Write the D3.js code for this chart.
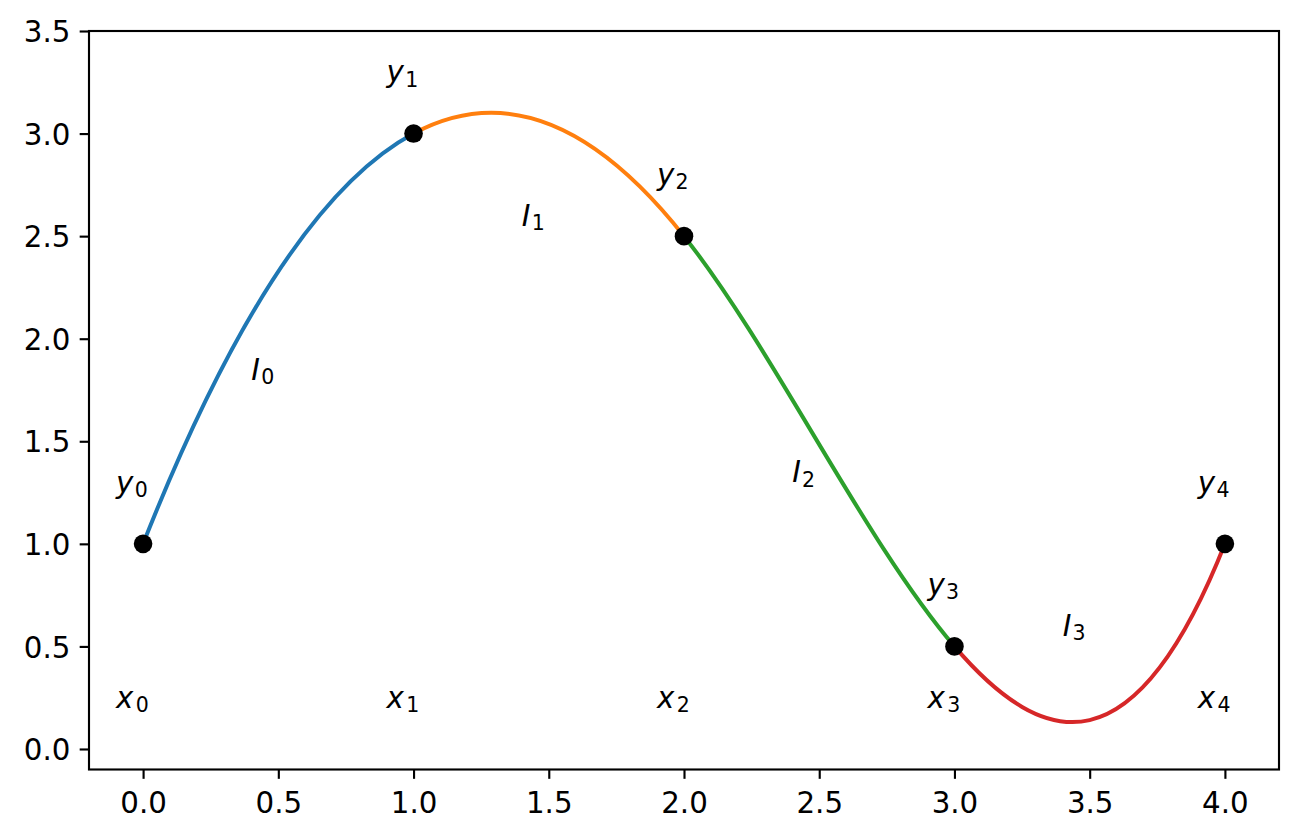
<!DOCTYPE html>
<html>
<head>
<meta charset="utf-8">
<script src="https://cdn.jsdelivr.net/npm/d3@7"></script>
<style>
  html, body { margin: 0; padding: 0; background: #fff; }
  svg { display: block; font-family: "DejaVu Sans", sans-serif; }
</style>
</head>
<body>
<svg id="chart" width="1298" height="839"></svg>
<script>
// ---- data ----
const knotX = [0, 1, 2, 3, 4];
const knotY = [1, 3, 2.5, 0.5, 1];
const segmentColors = ["#1f77b4", "#ff7f0e", "#2ca02c", "#d62728"];
const xTicks = [0, 0.5, 1, 1.5, 2, 2.5, 3, 3.5, 4];
const yTicks = [0, 0.5, 1, 1.5, 2, 2.5, 3, 3.5];
const xDomain = [-0.2, 4.2];
const yDomain = [-0.1, 3.5];
const xLabelY = 0.2;      // y position of the x_i labels
const yLabelOffset = 0.25; // y_i labels above the knot
const labelShiftX = -0.1;
const intervalShiftX = 0.4;
const intervalShiftY = -0.2;

// ---- layout ----
const svg = d3.select("#chart");
const L = 89, R = 1279, T = 31, B = 769.5;
const FS = 29.3;
const x = d3.scaleLinear().domain(xDomain).range([L, R]);
const y = d3.scaleLinear().domain(yDomain).range([B, T]);

// ---- not-a-knot cubic spline (as scipy CubicSpline) ----
function solve(A, b) {
  const n = b.length;
  A = A.map(r => r.slice()); b = b.slice();
  for (let c = 0; c < n; c++) {
    let p = c;
    for (let r = c + 1; r < n; r++) if (Math.abs(A[r][c]) > Math.abs(A[p][c])) p = r;
    [A[c], A[p]] = [A[p], A[c]]; [b[c], b[p]] = [b[p], b[c]];
    for (let r = c + 1; r < n; r++) {
      const f = A[r][c] / A[c][c];
      for (let k = c; k < n; k++) A[r][k] -= f * A[c][k];
      b[r] -= f * b[c];
    }
  }
  const xs = new Array(n).fill(0);
  for (let r = n - 1; r >= 0; r--) {
    let s = b[r];
    for (let k = r + 1; k < n; k++) s -= A[r][k] * xs[k];
    xs[r] = s / A[r][r];
  }
  return xs;
}
const n = knotX.length;
const h = d3.range(n - 1).map(i => knotX[i + 1] - knotX[i]);
const A = d3.range(n).map(() => new Array(n).fill(0));
const rhs = new Array(n).fill(0);
A[0][0] = -h[1]; A[0][1] = h[0] + h[1]; A[0][2] = -h[0];
for (let i = 1; i < n - 1; i++) {
  A[i][i - 1] = h[i - 1]; A[i][i] = 2 * (h[i - 1] + h[i]); A[i][i + 1] = h[i];
  rhs[i] = 6 * ((knotY[i + 1] - knotY[i]) / h[i] - (knotY[i] - knotY[i - 1]) / h[i - 1]);
}
A[n - 1][n - 3] = -h[n - 2]; A[n - 1][n - 2] = h[n - 3] + h[n - 2]; A[n - 1][n - 1] = -h[n - 3];
const M = solve(A, rhs);

// each cubic segment expressed exactly as a cubic Bezier
const segments = d3.range(n - 1).map(i => {
  const hi = h[i];
  const dy = (knotY[i + 1] - knotY[i]) / hi;
  const d0 = dy - hi * (2 * M[i] + M[i + 1]) / 6;
  const d1 = dy + hi * (M[i] + 2 * M[i + 1]) / 6;
  const p = d3.path();
  p.moveTo(x(knotX[i]), y(knotY[i]));
  p.bezierCurveTo(
    x(knotX[i] + hi / 3), y(knotY[i] + d0 * hi / 3),
    x(knotX[i + 1] - hi / 3), y(knotY[i + 1] - d1 * hi / 3),
    x(knotX[i + 1]), y(knotY[i + 1]));
  return { d: p.toString(), color: segmentColors[i] };
});

// ---- axes ----
const tickLen = 9.33, tickPad = 9.33, lw = 2.13;
const xAxis = svg.append("g").attr("transform", `translate(0,${B})`)
  .call(d3.axisBottom(x).tickValues(xTicks).tickFormat(d3.format(".1f"))
        .tickSize(tickLen).tickPadding(tickPad));
xAxis.selectAll("text").attr("dy", null).attr("y", 43);
const yAxis = svg.append("g").attr("transform", `translate(${L},0)`)
  .call(d3.axisLeft(y).tickValues(yTicks).tickFormat(d3.format(".1f"))
        .tickSize(tickLen).tickPadding(tickPad));
yAxis.selectAll("text").attr("dy", "0.365em");
svg.selectAll(".domain").remove();
svg.selectAll(".tick line").attr("stroke", "#000").attr("stroke-width", lw);
svg.selectAll(".tick text").attr("fill", "#000").style("font-size", FS + "px")
  .style("font-family", "'DejaVu Sans', sans-serif");

// ---- curves ----
svg.append("g").selectAll("path").data(segments).join("path")
  .attr("d", d => d.d).attr("fill", "none")
  .attr("stroke", d => d.color).attr("stroke-width", 4)
  .attr("stroke-linecap", "square");

// ---- knots ----
svg.append("g").selectAll("circle").data(knotX).join("circle")
  .attr("cx", (d, i) => x(knotX[i])).attr("cy", (d, i) => y(knotY[i]))
  .attr("r", 9.3).attr("fill", "#000");

// ---- labels ----
function mathLabel(px, py, letter, sub, gap) {
  const t = svg.append("text").attr("x", px).attr("y", py)
    .style("font-size", FS + "px").attr("fill", "#000");
  t.append("tspan").style("font-style", "italic").text(letter);
  t.append("tspan").attr("dx", gap).attr("dy", 4.3)
    .style("font-size", (FS * 0.7) + "px").text(sub);
}
knotX.forEach((xi, i) => {
  mathLabel(x(xi + labelShiftX), y(xLabelY), "x", i, 2.4);
  mathLabel(x(xi + labelShiftX), y(knotY[i] + yLabelOffset), "y", i, 1.3);
});
d3.range(n - 1).forEach(i => {
  const my = (knotY[i] + knotY[i + 1]) / 2 + intervalShiftY;
  mathLabel(x(knotX[i] + intervalShiftX), y(my), "I", i, 1.3);
});

// ---- frame ----
svg.append("rect").attr("x", L).attr("y", T).attr("width", R - L).attr("height", B - T)
  .attr("fill", "none").attr("stroke", "#000").attr("stroke-width", lw);
</script>
</body>
</html>
